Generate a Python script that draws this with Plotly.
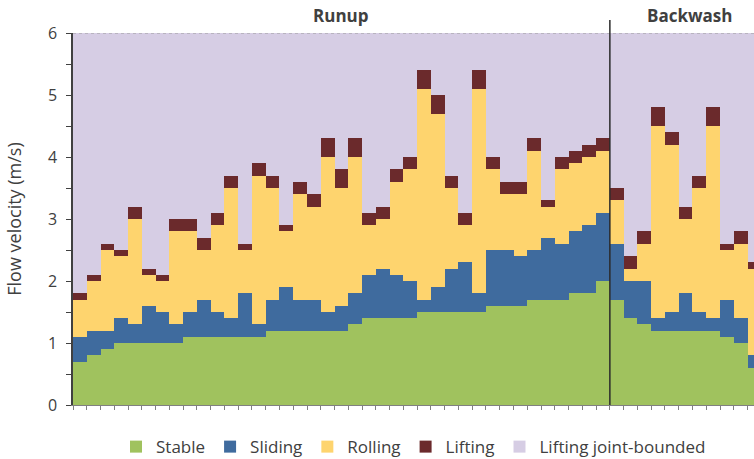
import plotly.graph_objects as go

# Threshold velocities (m/s) per sample window: upper limit of each mode
stable_top = [0.7, 0.8, 0.9, 1.0, 1.0, 1.0, 1.0, 1.0, 1.1, 1.1, 1.1, 1.1, 1.1, 1.1,
              1.2, 1.2, 1.2, 1.2, 1.2, 1.2, 1.3, 1.4, 1.4, 1.4, 1.4, 1.5, 1.5,
              1.5, 1.5, 1.5, 1.6, 1.6, 1.6, 1.7, 1.7, 1.7, 1.8, 1.8, 2.0,
              1.7, 1.4, 1.3, 1.2, 1.2, 1.2, 1.2, 1.2, 1.1, 1.0, 0.6]
sliding_top = [1.1, 1.2, 1.2, 1.4, 1.3, 1.6, 1.5, 1.3, 1.5, 1.7, 1.5, 1.4, 1.8, 1.3,
               1.7, 1.9, 1.7, 1.7, 1.5, 1.6, 1.8, 2.1, 2.2, 2.1, 2.0, 1.7, 1.9,
               2.2, 2.3, 1.8, 2.5, 2.5, 2.4, 2.5, 2.7, 2.6, 2.8, 2.9, 3.1,
               2.6, 2.0, 2.0, 1.4, 1.5, 1.8, 1.5, 1.4, 1.7, 1.4, 0.8]
rolling_top = [1.7, 2.0, 2.5, 2.4, 3.0, 2.1, 2.0, 2.8, 2.8, 2.5, 2.9, 3.5, 2.5, 3.7,
               3.5, 2.8, 3.4, 3.2, 4.0, 3.5, 4.0, 2.9, 3.0, 3.6, 3.8, 5.1, 4.7,
               3.5, 2.9, 5.1, 3.8, 3.4, 3.4, 4.1, 3.2, 3.8, 3.9, 4.0, 4.1,
               3.3, 2.2, 2.6, 4.5, 4.2, 3.0, 3.5, 4.5, 2.5, 2.6, 2.2]
lifting_top = [1.8, 2.1, 2.6, 2.5, 3.2, 2.2, 2.1, 3.0, 3.0, 2.7, 3.1, 3.7, 2.6, 3.9,
               3.7, 2.9, 3.6, 3.4, 4.3, 3.8, 4.3, 3.1, 3.2, 3.8, 4.0, 5.4, 5.0,
               3.7, 3.1, 5.4, 4.0, 3.6, 3.6, 4.3, 3.3, 4.0, 4.1, 4.2, 4.3,
               3.5, 2.4, 2.8, 4.8, 4.4, 3.2, 3.7, 4.8, 2.6, 2.8, 2.3]
y_max = 6.0
n_runup = 39  # windows belonging to the runup phase; the rest are backwash

mode_names = ["Stable", "Sliding", "Rolling", "Lifting", "Lifting joint-bounded"]
mode_colors = ["#A0C25E", "#3F6B9E", "#FED46E", "#6B2A2C", "#D6CDE4"]

n = len(stable_top)
x = list(range(n))
tops = [stable_top, sliding_top, rolling_top, lifting_top, [y_max] * n]
bottoms = [[0.0] * n, stable_top, sliding_top, rolling_top, lifting_top]

fig = go.Figure()
for name, color, top, bot in zip(mode_names, mode_colors, tops, bottoms):
    fig.add_trace(go.Bar(
        x=x, y=[round(t - b, 3) for t, b in zip(top, bot)],
        name=name, marker=dict(color=color, line=dict(width=0)),
        width=1.0,
    ))

font = "Open Sans, Liberation Sans, sans-serif"
x_right = 48.97

fig.update_layout(
    barmode="stack", bargap=0,
    width=754, height=459,
    margin=dict(l=73, r=0, t=33, b=54, autoexpand=False),
    paper_bgcolor="white", plot_bgcolor="white",
    font=dict(family=font, size=16, color="#404040"),
    showlegend=True,
    legend=dict(orientation="h", x=0.5, xanchor="center",
                yref="container", y=0.026, yanchor="middle",
                font=dict(size=17, color="#404040"), traceorder="normal",
                itemwidth=30, itemsizing="constant"),
    xaxis=dict(range=[-0.5, x_right], showgrid=False, zeroline=False,
               showticklabels=False, tickmode="array",
               tickvals=[k - 0.5 for k in range(n + 1)],
               ticks="outside", ticklen=4, tickcolor="#808080",
               showline=True, linecolor="#808080", linewidth=1),
    yaxis=dict(range=[0, y_max], dtick=1, showgrid=False, zeroline=False,
               ticks="outside", ticklen=5, tickcolor="#404040",
               showline=True, linecolor="#404040", linewidth=1.5,
               minor=dict(dtick=0.5, ticks="outside", ticklen=5, tickcolor="#404040"),
               title=dict(text="Flow velocity (m/s)", font=dict(size=18), standoff=22),
               tickfont=dict(size=16), ticklabelstandoff=6),
)

# dotted upper border of the plotting area
fig.add_shape(type="line", xref="x", yref="y", x0=-0.5, x1=x_right, y0=y_max, y1=y_max,
              line=dict(color="#9A9A9A", width=1, dash="dot"))
# separator between runup and backwash phases
fig.add_shape(type="line", xref="x", yref="paper", x0=n_runup - 0.5, x1=n_runup - 0.5,
              y0=0, y1=1.035, line=dict(color="#2B2B2B", width=1.5))

fig.add_annotation(text="<b>Runup</b>", xref="x", yref="paper", x=(n_runup - 1) / 2,
                   y=1.048, showarrow=False, yanchor="middle",
                   font=dict(size=17, color="#404040"))
fig.add_annotation(text="<b>Backwash</b>", xref="x", yref="paper", x=44.3,
                   y=1.048, showarrow=False, yanchor="middle",
                   font=dict(size=17, color="#404040"))

fig.write_html("out.html")
